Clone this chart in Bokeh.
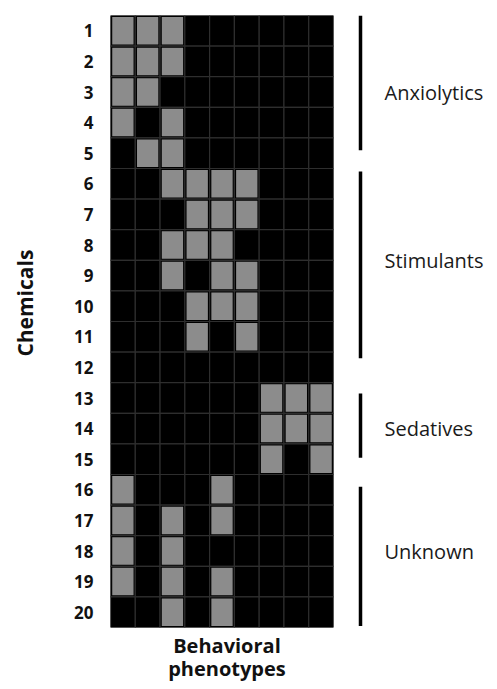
from bokeh.plotting import figure
from bokeh.layouts import row, column
from bokeh.models import FixedTicker, ColumnDataSource, Range1d
from bokeh.core.properties import value
from bokeh.embed import file_html
from bokeh.resources import INLINE
import math

chemicals = [str(i) for i in range(1, 21)]
n_phenotypes = 9
hits = [
    [1, 1, 1, 0, 0, 0, 0, 0, 0],
    [1, 1, 1, 0, 0, 0, 0, 0, 0],
    [1, 1, 0, 0, 0, 0, 0, 0, 0],
    [1, 0, 1, 0, 0, 0, 0, 0, 0],
    [0, 1, 1, 0, 0, 0, 0, 0, 0],
    [0, 0, 1, 1, 1, 1, 0, 0, 0],
    [0, 0, 0, 1, 1, 1, 0, 0, 0],
    [0, 0, 1, 1, 1, 0, 0, 0, 0],
    [0, 0, 1, 0, 1, 1, 0, 0, 0],
    [0, 0, 0, 1, 1, 1, 0, 0, 0],
    [0, 0, 0, 1, 0, 1, 0, 0, 0],
    [0, 0, 0, 0, 0, 0, 0, 0, 0],
    [0, 0, 0, 0, 0, 0, 1, 1, 1],
    [0, 0, 0, 0, 0, 0, 1, 1, 1],
    [0, 0, 0, 0, 0, 0, 1, 0, 1],
    [1, 0, 0, 0, 1, 0, 0, 0, 0],
    [1, 0, 1, 0, 1, 0, 0, 0, 0],
    [1, 0, 1, 0, 0, 0, 0, 0, 0],
    [1, 0, 1, 0, 1, 0, 0, 0, 0],
    [0, 0, 1, 0, 1, 0, 0, 0, 0],
]
groups = ["Anxiolytics", "Stimulants", "Sedatives", "Unknown"]
group_first = [1, 6, 13, 16]
group_last = [5, 11, 15, 20]
bracket_top = [0.0, 5.1, 12.35, 15.4]
bracket_bottom = [4.4, 11.2, 14.45, 19.95]
y_title = "Chemicals"
x_title = ["Behavioral", "phenotypes"]

FONT = "Open Sans"
H_TOP = 629
H_BOT = 52
TOP, BOTTOM = 15, 2
yr = Range1d(len(chemicals), 0)


def bare(fig):
    fig.outline_line_color = None
    fig.grid.visible = False
    fig.axis.visible = False


# --- left title strip (shares the row scale)
fa = figure(width=40, height=H_TOP, output_backend="svg", toolbar_location=None,
            x_range=(0, 40), y_range=yr, min_border_left=0, min_border_right=0,
            min_border_top=TOP, min_border_bottom=BOTTOM)
bare(fa)
fa.text(x=[24], y=[len(chemicals) * 0.47], text=[y_title], angle=math.pi / 2,
        text_font=value(FONT), text_font_style="bold", text_font_size="21px",
        text_color="#111111", text_align="center", text_baseline="middle")

# --- heatmap
fb = figure(width=295, height=H_TOP, output_backend="svg", toolbar_location=None,
            x_range=(0, n_phenotypes), y_range=yr,
            min_border_left=70, min_border_right=2, min_border_top=TOP, min_border_bottom=BOTTOM)
fb.outline_line_color = None
fb.grid.visible = False

bx, by, gx, gy = [], [], [], []
for r, rw in enumerate(hits):
    for c, v in enumerate(rw):
        bx.append(c + 0.5)
        by.append(r + 0.5)
        if v:
            gx.append(c + 0.5)
            gy.append(r + 0.5)

fb.rect(x=n_phenotypes / 2, y=len(chemicals) / 2, width=n_phenotypes, height=len(chemicals),
        fill_color="black", line_color="#9a9a9a", line_width=1)
fb.rect(x=bx, y=by, width=1, height=1, fill_color="black", line_color="#2e2e2e", line_width=1.2)
fb.rect(x=gx, y=gy, width=0.86, height=0.9, fill_color="#8c8c8c", line_color=None)

fb.yaxis.ticker = FixedTicker(ticks=[i + 0.5 for i in range(len(chemicals))])
fb.yaxis.major_label_overrides = {i + 0.5: chemicals[i] for i in range(len(chemicals))}
fb.yaxis.major_label_text_font = FONT
fb.yaxis.major_label_text_font_style = "bold"
fb.yaxis.major_label_text_font_size = "17px"
fb.yaxis.major_label_text_color = "#111111"
fb.yaxis.major_label_standoff = 17
fb.yaxis.axis_line_color = None
fb.yaxis.major_tick_line_color = None
fb.yaxis.minor_tick_line_color = None
fb.yaxis.major_tick_out = 0
fb.yaxis.major_tick_in = 0
fb.xaxis.visible = False

# --- brackets
fc = figure(width=154, height=H_TOP, output_backend="svg", toolbar_location=None,
            x_range=(0, 154), y_range=yr,
            min_border_left=0, min_border_right=0, min_border_top=TOP, min_border_bottom=BOTTOM)
bare(fc)
src = ColumnDataSource(dict(
    x=[25] * len(groups),
    y0=bracket_top, y1=bracket_bottom,
    ly=[(a + b) / 2 - 0.5 for a, b in zip(group_first, group_last)],
    lx=[49] * len(groups),
    name=groups,
))
fc.segment(x0="x", x1="x", y0="y0", y1="y1", source=src, line_color="black", line_width=3.5)
fc.text(x="lx", y="ly", text="name", source=src, text_font=value(FONT),
        text_font_size="20px", text_color="#1a1a1a", text_baseline="middle", text_align="left")

# --- x title strip (same horizontal scale as the heatmap columns)
fd = figure(width=489, height=H_BOT, output_backend="svg", toolbar_location=None,
            x_range=(-110 / 24.78, (489 - 110) / 24.78), y_range=(0, H_BOT), min_border=0)
bare(fd)
fd.text(x=[n_phenotypes / 2 + 0.2] * 2, y=[36, 13], text=x_title, text_font=value(FONT),
        text_font_style="bold", text_font_size="20px", text_color="#111111",
        text_align="center", text_baseline="middle")

layout = column(row(fa, fb, fc, spacing=0), fd, spacing=0)
open("out.html", "w").write(file_html(layout, INLINE))
